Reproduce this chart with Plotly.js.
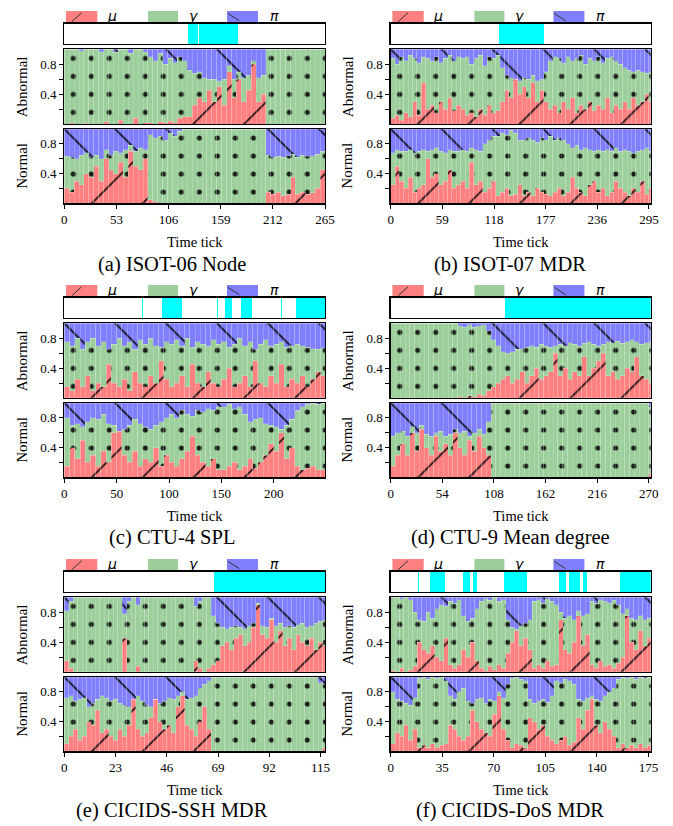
<!DOCTYPE html>
<html><head><meta charset="utf-8">
<script src="https://cdn.plot.ly/plotly-3.0.1.min.js"></script>
<style>html,body{margin:0;padding:0;background:#fff;}#chart{width:673px;height:826px;}</style>
</head><body><div id="chart"></div>
<script>
// ---------------- DATA ----------------
// (a) ISOT-06 Node, bins of 5 ticks
const a_ticks=[0,53,106,159,212,265];
const a_cyan_start=[126,136.5];
const a_cyan_end=[135.5,177];
const a_ab_mu=[0,0.02,0,0,0.01,0,0,0,0.03,0,0,0.05,0,0,0.08,0,0.02, 0.02,0,0.03,0.02,0.04,0.02,0.08,0.1, 0.1,0.25,0.35,0.3,0.45, 0.3,0.5,0.25,0.7,0.35, 0.6,0.3,0.45,0.8,0.3,0.4, 0,0,0,0,0,0,0,0,0,0,0,0];
const a_ab_top=[1,1,1,0.98,1,1,1,0.97,1,1,0.96,1,1,0.95,1,1,0.97, 0.9,0.85,0.95,0.8,0.88,0.82,0.9,0.85, 0.72,0.68,0.7,0.62,0.6, 0.6,0.58,0.6,0.78,0.6, 0.7,0.62,0.65,0.85,0.62,0.65, 1,1,1,1,1,1,1,1,1,1,1,1];
const a_no_mu=[0.2,0.15,0.3,0.25,0.4, 0.35,0.5,0.3,0.6,0.45, 0.4,0.55,0.35,0.7,0.5,0.45,0.6, 0.05,0.02,0,0,0,0,0,0, 0,0,0,0,0,0,0,0,0,0,0,0,0,0,0,0, 0.15,0.12,0.15,0.1,0.12,0.35,0.12,0.15,0.12,0.14,0.2,0.45];
const a_no_top=[0.63,0.62,0.6,0.65,0.68, 0.62,0.65,0.6,0.72,0.65, 0.7,0.68,0.72,0.78,0.7,0.75,0.72, 0.92,0.88,0.9,0.85,0.95,0.9,0.97,1, 1,1,1,1,1,1,1,1,1,1,1,1,1,1,1,1, 0.65,0.62,0.63,0.62,0.64,0.66,0.62,0.65,0.63,0.64,0.66,0.7];

// (b) ISOT-07 MDR, bins of 5 ticks
const b_ticks=[0,59,118,177,236,295];
const b_cyan_start=[124];
const b_cyan_end=[175];
const b_ab_mu=[0.08,0.12,0.05,0.15,0.1,0.3,0.12,0.55, 0.2,0.25,0.15,0.3,0.2,0.35,0.18,0.25,0.2, 0.12,0.15,0.1,0.2,0.12,0.25,0.15,0.18, 0.3,0.45,0.35,0.6,0.4,0.5,0.35,0.55,0.3,0.45,0.3, 0.2,0.25,0.15,0.3,0.2,0.35,0.15,0.25,0.2,0.3,0.18,0.25,0.2,0.35,0.15,0.25,0.2, 0.3,0.2,0.35,0.25,0.3,0.4,0.3];
const b_ab_top=[0.88,0.8,0.9,0.85,0.92,0.88,0.82,0.9, 0.88,0.85,0.9,0.82,0.88,0.92,0.85,0.9,0.88, 0.9,0.8,0.88,0.92,0.78,0.9,0.88,0.92, 0.75,0.65,0.62,0.6,0.58,0.62,0.6,0.65,0.58,0.6,0.7, 0.85,0.9,0.88,0.82,0.9,0.85,0.88,0.92,0.8,0.88,0.85,0.9,0.82,0.88,0.9,0.85,0.8, 0.75,0.72,0.7,0.72,0.7,0.68,0.7];
const b_no_mu=[0.25,0.5,0.3,0.2,0.35,0.15,0.2,0.25, 0.6,0.35,0.4,0.25,0.3,0.45,0.2,0.25, 0.3,0.2,0.55,0.25,0.3,0.15,0.2,0.3, 0.1,0.15,0.2,0.1,0.12,0.25,0.1,0.15, 0.1,0.2,0.15,0.12,0.1,0.15,0.2,0.1, 0.15,0.35,0.2,0.15,0.1,0.25,0.3,0.15, 0.2,0.1,0.15,0.3,0.2,0.15,0.1,0.2,0.15,0.3,0.12,0.2];
const b_no_top=[0.68,0.72,0.7,0.7,0.72,0.68,0.7,0.72, 0.7,0.72,0.75,0.7,0.68,0.72,0.7,0.7, 0.72,0.7,0.75,0.72,0.7,0.8,0.85,0.9, 0.9,0.95,0.92,0.98,0.95,0.85,0.85,0.88, 0.85,0.82,0.88,0.85,0.9,0.85,0.88,0.85, 0.8,0.75,0.78,0.72,0.75,0.72,0.7,0.72, 0.7,0.72,0.7,0.75,0.7,0.72,0.7,0.68,0.7,0.72,0.75,0.7];

// (c) CTU-4 SPL, bins of 5 ticks
const c_ticks=[0,50,100,150,200];
const c_cyan_start=[74.5,93,146,153.5,169,206.5,221];
const c_cyan_end=[75.5,112,147,160,178.8,207.5,250];
const c_ab_mu=[0.15,0.1,0.25,0.15,0.3,0.1,0.2,0.15,0.45,0.2, 0.15,0.25,0.1,0.35,0.2,0.15,0.3,0.2,0.5,0.25, 0.15,0.2,0.3,0.15,0.45,0.2,0.15,0.35,0.2,0.15, 0.25,0.4,0.15,0.2,0.3,0.15,0.5,0.2,0.15,0.3, 0.2,0.45,0.15,0.25,0.2,0.3,0.15,0.25,0.35,0.3];
const c_ab_top=[0.75,0.7,0.8,0.65,0.75,0.8,0.7,0.75,0.65,0.72, 0.8,0.7,0.75,0.65,0.78,0.72,0.8,0.7,0.68,0.75, 0.72,0.78,0.7,0.8,0.68,0.75,0.72,0.7,0.78,0.72, 0.75,0.68,0.72,0.8,0.7,0.75,0.65,0.72,0.78,0.7, 0.72,0.75,0.68,0.7,0.72,0.7,0.68,0.66,0.65,0.67];
const c_no_mu=[0.15,0.4,0.25,0.5,0.2,0.3,0.15,0.35,0.2,0.6, 0.7,0.3,0.2,0.35,0.15,0.25,0.2,0.4,0.15,0.3, 0.2,0.15,0.25,0.35,0.55,0.3,0.2,0.15,0.25,0.1, 0.1,0.15,0.2,0.1,0.15,0.25,0.12,0.2,0.3,0.45, 0.35,0.6,0.25,0.4,0.15,0.1,0.12,0.15,0.1,0.1];
const c_no_top=[0.8,0.7,0.72,0.68,0.75,0.8,0.78,0.85,0.72,0.7, 0.62,0.65,0.7,0.78,0.72,0.68,0.65,0.7,0.75,0.8, 0.85,0.8,0.9,0.85,0.82,0.9,0.88,0.92,0.9,0.95, 0.95,0.98,0.92,0.95,0.85,0.75,0.78,0.8,0.72,0.7, 0.68,0.65,0.7,0.78,0.9,0.95,0.98,1,0.98,1];

// (d) CTU-9 Mean degree, bins of 5 ticks
const d_ticks=[0,54,108,162,216,270];
const d_cyan_start=[120];
const d_cyan_end=[272];
const d_ab_mu=[0,0,0,0,0,0,0,0,0,0,0,0,0,0,0.02,0,0.03,0.02,0.05,0.03, 0.1,0.15,0.2,0.25,0.3,0.2, 0.25,0.35,0.2,0.3,0.4,0.25,0.3,0.35, 0.6,0.3,0.4,0.25,0.35,0.3,0.55,0.3,0.4,0.5, 0.6,0.3,0.35,0.25,0.3,0.4,0.35,0.55,0.3,0.25,0.2];
const d_ab_top=[1,1,1,1,1,1,1,1,1,1,1,1,1,1,0.97,0.95,0.98,0.95,0.97,0.98, 0.9,0.78,0.7,0.62,0.6,0.62, 0.65,0.66,0.68,0.7,0.68,0.72,0.7,0.68, 0.7,0.72,0.7,0.74,0.72,0.7,0.73,0.75,0.72,0.7, 0.72,0.75,0.74,0.76,0.73,0.75,0.78,0.75,0.72,0.74,0.75];
const d_no_mu=[0.15,0.3,0.45,0.3,0.6,0.35,0.65,0.4,0.3,0.55,0.35,0.45,0.3,0.6,0.4,0.3,0.5,0.35,0.55,0.4,0.3, 0,0,0,0,0,0,0,0,0,0,0,0,0,0,0,0,0,0,0,0,0,0,0,0,0,0,0,0,0,0,0,0,0,0.05];
const d_no_top=[0.55,0.6,0.62,0.55,0.68,0.6,0.7,0.58,0.55,0.6,0.62,0.55,0.58,0.65,0.6,0.62,0.55,0.6,0.65,0.58,0.75, 1,1,1,1,1,1,1,1,1,1,1,1,1,1,1,1,1,1,1,1,1,1,1,1,1,1,1,1,1,1,1,1,1,0.95];

// (e) CICIDS-SSH MDR, bins of 2 ticks
const e_ticks=[0,23,46,69,92,115];
const e_cyan_start=[67];
const e_cyan_end=[117];
const e_ab_mu=[0.15,0.05,0,0,0,0,0,0,0,0,0,0,0,0.45,0,0,0.08,0,0,0,0,0,0,0,0,0,0,0,0,0.15,0.05,0,0.05, 0.1,0.15,0.35,0.4,0.3,0.45,0.5,0.35,0.4,0.6,0.9,0.5,0.45,0.7,0.4,0.55,0.35,0.45,0.3,0.5,0.4,0.35,0.45,0.3,0.4,0.35];
const e_ab_top=[0.82,0.95,1,1,1,1,1,1,1,1,1,1,1,0.78,0.95,1,0.9,1,1,1,1,1,1,1,1,1,1,1,1,0.88,0.95,1,1, 0.75,0.65,0.6,0.58,0.6,0.62,0.6,0.58,0.62,0.65,0.92,0.62,0.6,0.72,0.62,0.65,0.6,0.62,0.6,0.63,0.65,0.6,0.62,0.65,0.68,0.7];
const e_no_mu=[0.1,0.2,0.3,0.15,0.2,0.4,0.35,0.55,0.25,0.3,0.2,0.15,0.3,0.2,0.35,0.75,0.3,0.2,0.25,0.45,0.7,0.4,0.3,0.35,0.25,0.6,0.75,0.35,0.3,0.2,0.4,0.6,0.3, 0,0,0,0,0,0,0,0,0,0,0,0,0,0,0,0,0,0,0,0,0,0,0,0,0,0.05];
const e_no_top=[0.72,0.75,0.68,0.7,0.72,0.6,0.65,0.7,0.75,0.72,0.68,0.7,0.65,0.62,0.6,0.7,0.75,0.68,0.62,0.6,0.7,0.65,0.68,0.72,0.7,0.75,0.8,0.7,0.72,0.75,0.85,0.9,0.95, 1,1,1,1,1,1,1,1,1,1,1,1,1,1,1,1,1,1,1,1,1,1,1,1,0.92,0.9];

// (f) CICIDS-DoS MDR, bins of 3 ticks
const f_ticks=[0,35,70,105,140,175];
const f_cyan_start=[18.2,27,49,55.6,77,114,120.7,130.7,155.5];
const f_cyan_end=[19.2,37,53.5,58.5,92.7,119,128.4,133,176.5];
const f_ab_mu=[0.02,0,0.05,0,0.03,0.08, 0.4,0.3,0.25,0.35,0.2, 0.15,0.45,0.1,0.05,0.1, 0.3,0.2,0.4,0.15, 0.05,0.02,0.08,0.03,0.1,0.05, 0.25,0.4,0.55,0.35,0.45,0.3, 0.05,0.1,0.05,0.15,0.08,0.1, 0.7,0.3,0.25,0.4,0.75,0.35,0.5, 0.1,0.05,0.15,0.08,0.1,0.05,0.12, 0.2,0.75,0.4,0.3,0.55,0.35,0.45];
const f_ab_top=[1,1,0.98,1,0.97,0.8, 0.7,0.68,0.8,0.72,0.85, 0.9,0.88,0.95,0.92,0.97, 0.75,0.68,0.72,0.85, 0.95,0.98,0.96,1,0.95,0.97, 0.7,0.6,0.58,0.62,0.65,0.7, 0.95,0.97,0.92,0.98,0.95,0.9, 0.8,0.72,0.75,0.7,0.82,0.75,0.78, 0.95,0.92,0.97,0.95,0.93,0.96,0.9, 0.78,0.85,0.72,0.7,0.75,0.7,0.72];
const f_no_mu=[0.1,0.25,0.2,0.35,0.15,0.3, 0.05,0.08,0.05,0.1,0.05,0.08,0.1, 0.35,0.3,0.2,0.15, 0.2,0.55,0.4,0.3, 0.25,0.2,0.5,0.75,0.3,0.15, 0.05,0.1,0.08,0.05, 0.45,0.4,0.3,0.35,0.2,0.15, 0.1,0.15,0.2,0.08,0.12, 0.45,0.3,0.55,0.7,0.35,0.25,0.4,0.3,0.2, 0.05,0.1,0.05,0.08,0.05,0.1,0.05,0.08];
const f_no_top=[0.8,0.7,0.68,0.65,0.62,0.72, 0.98,1,0.97,1,0.98,1,0.95, 0.75,0.7,0.8,0.85, 0.68,0.65,0.7,0.72, 0.65,0.7,0.68,0.8,0.72,0.9, 0.98,1,0.97,0.95, 0.7,0.65,0.68,0.7,0.66,0.75, 0.95,0.92,0.97,0.95,0.9, 0.7,0.68,0.72,0.75,0.7,0.68,0.75,0.8,0.85, 0.97,1,0.98,1,0.97,1,0.98,1];

const panels=[
 {cap:'(a) ISOT-06 Node',   bin:5, xr:[0,265],   ticks:a_ticks, abMu:a_ab_mu, abTop:a_ab_top, noMu:a_no_mu, noTop:a_no_top, cs:a_cyan_start, ce:a_cyan_end},
 {cap:'(b) ISOT-07 MDR',    bin:5, xr:[0,297],   ticks:b_ticks, abMu:b_ab_mu, abTop:b_ab_top, noMu:b_no_mu, noTop:b_no_top, cs:b_cyan_start, ce:b_cyan_end},
 {cap:'(c) CTU-4 SPL',      bin:5, xr:[0,249],   ticks:c_ticks, abMu:c_ab_mu, abTop:c_ab_top, noMu:c_no_mu, noTop:c_no_top, cs:c_cyan_start, ce:c_cyan_end},
 {cap:'(d) CTU-9 Mean degree', bin:5, xr:[0,272], ticks:d_ticks, abMu:d_ab_mu, abTop:d_ab_top, noMu:d_no_mu, noTop:d_no_top, cs:d_cyan_start, ce:d_cyan_end},
 {cap:'(e) CICIDS-SSH MDR', bin:2, xr:[0,117],   ticks:e_ticks, abMu:e_ab_mu, abTop:e_ab_top, noMu:e_no_mu, noTop:e_no_top, cs:e_cyan_start, ce:e_cyan_end},
 {cap:'(f) CICIDS-DoS MDR', bin:3, xr:[0,176.5], ticks:f_ticks, abMu:f_ab_mu, abTop:f_ab_top, noMu:f_no_mu, noTop:f_no_top, cs:f_cyan_start, ce:f_cyan_end}
];

// ---------------- STYLE / LAYOUT ----------------
const W=673,H=826;
const RED='#ff8080', GREEN='#9dcf9d', BLUE='#8080ff', CYAN='#00ffff';
const SERIF='Liberation Serif, Times New Roman, serif';
const colX=[[64.3,325],[390.7,650.7]];
const ROW=274;
const SUB=[[23.5,44],[49.3,124],[129,203.3]]; // strip, abnormal, normal (px, row 0)
const px=x=>x/W, py=y=>1-y/H;
const edge={color:'rgba(255,255,255,0.3)',width:0.6};
const traces=[];
const layout={width:W,height:H,margin:{l:0,r:0,t:0,b:0},paper_bgcolor:'#fff',plot_bgcolor:'#fff',
  barmode:'stack',bargap:0,showlegend:false,annotations:[],shapes:[],font:{family:SERIF,color:'#000'}};

function pat(shape,size,sol,bg){return {shape:shape,size:size,solidity:sol,fgcolor:'#000',fgopacity:0.85,bgcolor:bg,fillmode:'overlay'};}

panels.forEach((P,p)=>{
  const col=p%2,row=Math.floor(p/2),off=ROW*row;
  const [x0,x1]=colX[col];
  for(let s=0;s<3;s++){
    const k=p*3+s+1;
    const xn='xaxis'+(k===1?'':k), yn='yaxis'+(k===1?'':k);
    const xid='x'+(k===1?'':k), yid='y'+(k===1?'':k);
    const [y0,y1]=SUB[s];
    layout[xn]={domain:[px(x0),px(x1)],range:P.xr,anchor:yid,showline:true,mirror:true,linecolor:'#000',linewidth:1.3,
      showgrid:false,zeroline:false,ticks:s===2?'outside':'',ticklen:4,tickcolor:'#000',tickwidth:1,
      tickvals:P.ticks,showticklabels:s===2,tickfont:{family:SERIF,size:13,color:'#000'},fixedrange:true};
    layout[yn]={domain:[py(y1+off),py(y0+off)],range:[0,1],anchor:xid,showline:true,mirror:true,linecolor:'#000',linewidth:1.3,
      showgrid:false,zeroline:false,ticks:s===0?'':'outside',ticklen:4,tickcolor:'#000',tickwidth:1,
      tickvals:[0.2,0.4,0.6,0.8],ticktext:['','0.4','','0.8'],showticklabels:s!==0,
      tickfont:{family:SERIF,size:13,color:'#000'},fixedrange:true};
    if(s===0){
      traces.push({type:'bar',xaxis:xid,yaxis:yid,x:P.cs.map((a,i)=>(a+P.ce[i])/2),width:P.cs.map((a,i)=>P.ce[i]-a),
        y:P.cs.map(()=>1),marker:{color:CYAN,line:{width:0}},hoverinfo:'skip'});
    } else {
      const mu=s===1?P.abMu:P.noMu, top=s===1?P.abTop:P.noTop;
      const xs=mu.map((_,i)=>P.bin*i+P.bin/2);
      const gam=top.map((t,i)=>t-mu[i]), pi=top.map(t=>1-t);
      traces.push({type:'bar',xaxis:xid,yaxis:yid,x:xs,y:mu,width:P.bin,hoverinfo:'skip',
        marker:{color:RED,line:edge,pattern:pat('/',36,0.05,RED)}});
      traces.push({type:'bar',xaxis:xid,yaxis:yid,x:xs,y:gam,width:P.bin,hoverinfo:'skip',
        marker:{color:GREEN,line:edge,pattern:pat('.',18,0.065,GREEN)}});
      traces.push({type:'bar',xaxis:xid,yaxis:yid,x:xs,y:pi,width:P.bin,hoverinfo:'skip',
        marker:{color:BLUE,line:edge,pattern:pat('\\',36,0.05,BLUE)}});
    }
  }
  // y titles
  const ytx=col===0?21.7:347.5;
  [['Abnormal',1],['Normal',2]].forEach(([t,s])=>{
    layout.annotations.push({text:t,xref:'paper',yref:'paper',x:px(ytx),y:py((SUB[s][0]+SUB[s][1])/2+off),
      textangle:-90,showarrow:false,xanchor:'center',yanchor:'middle',font:{family:SERIF,size:15,color:'#000'}});
  });
  // x title
  layout.annotations.push({text:'Time tick',xref:'paper',yref:'paper',x:px((x0+x1)/2),y:py(241.5+off),showarrow:false,
    xanchor:'center',yanchor:'middle',font:{family:SERIF,size:14.5,color:'#000'}});
  // caption
  layout.annotations.push({text:P.cap,xref:'paper',yref:'paper',x:px(col===0?172:510),y:py(264.5+273*row),showarrow:false,
    xanchor:'center',yanchor:'middle',font:{family:SERIF,size:20.5,color:'#000'},borderpad:0});
  // legend
  const L=[[RED,1.7,33,'μ',47.7],[GREEN,83.7,113.7,'γ',128.7],[BLUE,162.7,193.7,'π',209.7]];
  L.forEach(([c,a,b,t,lx])=>{
    layout.shapes.push({type:'rect',xref:'paper',yref:'paper',x0:px(x0+a),x1:px(x0+b),y0:py(22+off),y1:py(11+off),
      fillcolor:c,line:{width:0}});
    layout.annotations.push({text:'<i>'+t+'</i>',xref:'paper',yref:'paper',x:px(x0+lx),y:py(16+off),showarrow:false,
      xanchor:'center',yanchor:'middle',font:{family:'DejaVu Sans',size:14,color:'#000'}});
  });
  layout.shapes.push({type:'line',xref:'paper',yref:'paper',x0:px(x0+7.4),y0:py(21.7+off),x1:px(x0+17.4),y1:py(12.7+off),line:{color:'#333',width:1}});
  layout.shapes.push({type:'line',xref:'paper',yref:'paper',x0:px(x0+163.4),y0:py(13.3+off),x1:px(x0+175),y1:py(20.7+off),line:{color:'#333',width:1}});
});

Plotly.newPlot('chart',traces,layout,{staticPlot:true,displayModeBar:false});
</script></body></html>
